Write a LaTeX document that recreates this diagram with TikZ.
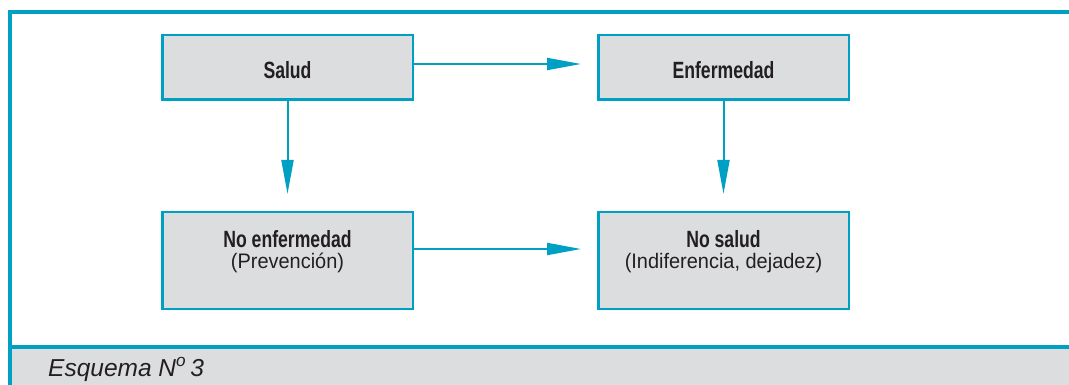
\documentclass[tikz,border=0pt]{standalone}
\usepackage{fontspec}
\setmainfont{Liberation Sans}
\newfontfamily\headfont[FakeStretch=0.75]{Liberation Sans}
\newfontfamily\notefont[FakeStretch=0.95]{Liberation Sans}
\usetikzlibrary{arrows.meta}
\definecolor{frameblue}{RGB}{0,160,196}
\definecolor{panelgray}{RGB}{220,221,223}
\definecolor{ink}{RGB}{35,31,32}

\begin{document}
\begin{tikzpicture}[x=1pt,y=-1pt,
  stepbox/.style={draw=frameblue, line width=2.5pt, fill=panelgray,
    minimum width=250.5pt, inner sep=0pt},
  upperbox/.style={stepbox, minimum height=64.5pt},
  lowerbox/.style={stepbox, minimum height=96.5pt},
  flow/.style={draw=frameblue, line width=2pt,
    -{Triangle[length=34pt,width=12pt]}},
  boxtitle/.style={anchor=base, text=ink, inner sep=0pt,
    font=\headfont\bfseries\fontsize{23.5}{23.5}\selectfont},
  boxnote/.style={anchor=base, text=ink, inner sep=0pt,
    font=\notefont\fontsize{21}{21}\selectfont},
  frameline/.style={draw=frameblue, line width=3.5pt},
]
\useasboundingbox (0,0) rectangle (1069,385);

% caption strip and outer frame
\fill[panelgray] (10,347) rectangle (1069,385);
\draw[frameline] (8.25,12) -- (1069,12);
\draw[frameline] (10,10.25) -- (10,385);
\draw[frameline] (10,347) -- (1069,347);

% boxes
\node[upperbox] (salud) at (287.5,67.5) {};
\node[upperbox] (enf)   at (723.5,67.5) {};
\node[lowerbox] (noenf) at (287.5,260.5) {};
\node[lowerbox] (nosal) at (723.5,260.5) {};

% box labels
\node[boxtitle] (saludtxt) at ([yshift=-11.5pt]salud.center) {Salud};
\node[boxtitle] (enftxt)   at ([yshift=-11.5pt]enf.center) {Enfermedad};
\node[boxtitle] (noenftxt) at ([yshift=13pt]noenf.center) {No enfermedad};
\node[boxnote]  (noenfsub) at ([yshift=-8pt]noenf.center) {(Prevención)};
\node[boxtitle] (nosaltxt) at ([yshift=13pt]nosal.center) {No salud};
\node[boxnote]  (nosalsub) at ([yshift=-8pt]nosal.center) {(Indiferencia, dejadez)};

% connectors
\draw[flow, shorten >=16pt] ([yshift=3.5pt]salud.east) -- ([yshift=3.5pt]enf.west);
\draw[flow, shorten >=16pt] ([yshift=11.5pt]noenf.east) -- ([yshift=11.5pt]nosal.west);
\draw[flow, shorten >=17pt] (salud.south) -- (noenf.north);
\draw[flow, shorten >=17pt] (enf.south) -- (nosal.north);

% caption
\node[anchor=base west, inner sep=0pt, text=ink,
  font=\itshape\fontsize{24.5}{24.5}\selectfont] (caption) at (48,376)
  {Esquema N\textsuperscript{o}\,3};
\end{tikzpicture}
\end{document}
